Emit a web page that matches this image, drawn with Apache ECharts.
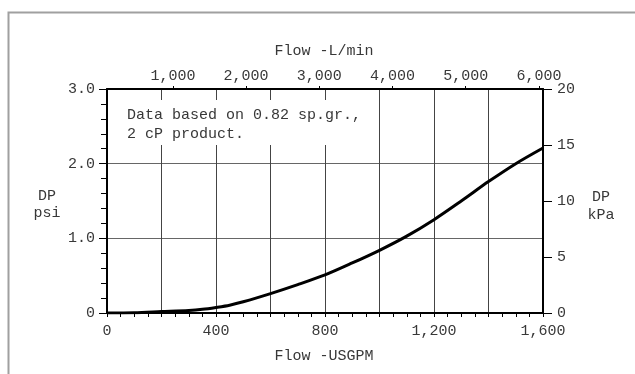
<!DOCTYPE html>
<html>
<head>
<meta charset="utf-8">
<script src="https://cdn.jsdelivr.net/npm/echarts@6/dist/echarts.min.js"></script>
<style>
html,body{margin:0;padding:0;background:#fff;}
#chart{width:635px;height:374px;}
</style>
</head>
<body>
<div id="chart"></div>
<script>
// Flow (US GPM) vs pressure drop (psi)
const flowUSGPM = [0, 100, 200, 300, 350, 400, 450, 500, 600, 700, 800, 900, 1000, 1100, 1200, 1300, 1400, 1500, 1600];
const dpPsi     = [0, 0.005, 0.02, 0.035, 0.05, 0.075, 0.105, 0.15, 0.26, 0.38, 0.51, 0.67, 0.84, 1.03, 1.25, 1.50, 1.76, 2.0, 2.21];

const bottomTickValues = [0, 400, 800, 1200, 1600];
const bottomTickLabels = ['0', '400', '800', '1,200', '1,600'];
const topTickValues = [1000, 2000, 3000, 4000, 5000, 6000];
const topTickLabels = ['1,000', '2,000', '3,000', '4,000', '5,000', '6,000'];
const leftTickValues = [0, 1, 2, 3];
const leftTickLabels = ['0', '1.0', '2.0', '3.0'];
const rightTickValues = [0, 5, 10, 15, 20];
const rightTickLabels = ['0', '5', '10', '15', '20'];

const topTitle = 'Flow -L/min';
const bottomTitle = 'Flow -USGPM';
const leftName = 'DP\npsi';
const rightName = 'DP\nkPa';
const noteText = 'Data based on 0.82 sp.gr.,\n2 cP product.';

const FONT = "'Liberation Mono', 'Courier New', monospace";
const TXT = '#383838';

function lookup(vals, labels) {
  return function (v) {
    for (let i = 0; i < vals.length; i++) {
      if (Math.abs(vals[i] - v) < 1e-6) return labels[i];
    }
    return '';
  };
}

const seriesData = flowUSGPM.map((x, i) => [x, dpPsi[i]]);

const chart = echarts.init(document.getElementById('chart'), null, {renderer: 'canvas'});
chart.setOption({
  animation: false,
  backgroundColor: '#fff',
  grid: {left: 107, right: 92, top: 89, bottom: 61, show: false},
  xAxis: [
    {
      type: 'value', position: 'bottom', min: 0, max: 1600, interval: 200,
      axisLine: {show: true, onZero: false, lineStyle: {color: '#000', width: 2}},
      axisTick: {show: true, length: 4, lineStyle: {color: '#000', width: 1}},
      minorTick: {show: true, splitNumber: 4, length: 4, lineStyle: {color: '#000', width: 1}},
      splitLine: {show: true, lineStyle: {color: '#444', width: 1}},
      axisLabel: {margin: 11, color: TXT, fontFamily: FONT, fontSize: 15,
        formatter: lookup(bottomTickValues, bottomTickLabels)}
    },
    {
      type: 'value', position: 'top', min: 100, max: 6056,
      axisLine: {show: true, onZero: false, lineStyle: {color: '#000', width: 2}},
      axisTick: {show: true, length: 3, customValues: topTickValues, lineStyle: {color: '#000', width: 1}},
      splitLine: {show: false},
      axisLabel: {margin: 5, color: TXT, fontFamily: FONT, fontSize: 15, customValues: topTickValues,
        formatter: lookup(topTickValues, topTickLabels)}
    }
  ],
  yAxis: [
    {
      type: 'value', position: 'left', min: 0, max: 3, interval: 1,
      axisLine: {show: true, onZero: false, lineStyle: {color: '#000', width: 2}},
      axisTick: {show: true, length: 8, lineStyle: {color: '#000', width: 1}},
      minorTick: {show: true, splitNumber: 5, length: 6, lineStyle: {color: '#000', width: 1}},
      splitLine: {show: true, lineStyle: {color: '#666', width: 1}},
      axisLabel: {margin: 12, color: TXT, fontFamily: FONT, fontSize: 15,
        formatter: lookup(leftTickValues, leftTickLabels)}
    },
    {
      type: 'value', position: 'right', min: 0, max: 20, interval: 5,
      axisLine: {show: true, onZero: false, lineStyle: {color: '#000', width: 2}},
      axisTick: {show: true, length: 9, lineStyle: {color: '#000', width: 1}},
      splitLine: {show: false},
      axisLabel: {margin: 14, color: TXT, fontFamily: FONT, fontSize: 15,
        formatter: lookup(rightTickValues, rightTickLabels)}
    }
  ],
  series: [
    {
      type: 'line', xAxisIndex: 0, yAxisIndex: 0,
      data: seriesData, smooth: 0.3, symbol: 'none', showSymbol: false,
      lineStyle: {color: '#000', width: 3}, z: 5
    }
  ],
  graphic: [
    {type: 'polyline', z: 1, shape: {points: [[8.5, 380], [8.5, 12.5], [640, 12.5]]},
      style: {stroke: '#a0a0a0', lineWidth: 2, fill: null}},
    {type: 'rect', z: 50, shape: {x: 109, y: 100, width: 262, height: 45}, style: {fill: '#fff'}},
    {type: 'text', z: 51, x: 127, y: 106,
      style: {text: noteText, font: '15px ' + FONT, fill: TXT, textAlign: 'left', textVerticalAlign: 'top', lineHeight: 19}},
    {type: 'text', z: 51, x: 324, y: 51,
      style: {text: topTitle, font: '15px ' + FONT, fill: TXT, textAlign: 'center', textVerticalAlign: 'middle'}},
    {type: 'text', z: 51, x: 324, y: 356,
      style: {text: bottomTitle, font: '15px ' + FONT, fill: TXT, textAlign: 'center', textVerticalAlign: 'middle'}},
    {type: 'text', z: 51, x: 47, y: 205,
      style: {text: leftName, font: '15px ' + FONT, fill: TXT, textAlign: 'center', textVerticalAlign: 'middle', lineHeight: 17}},
    {type: 'text', z: 51, x: 601, y: 206,
      style: {text: rightName, font: '15px ' + FONT, fill: TXT, textAlign: 'center', textVerticalAlign: 'middle', lineHeight: 18}}
  ]
});
</script>
</body>
</html>
